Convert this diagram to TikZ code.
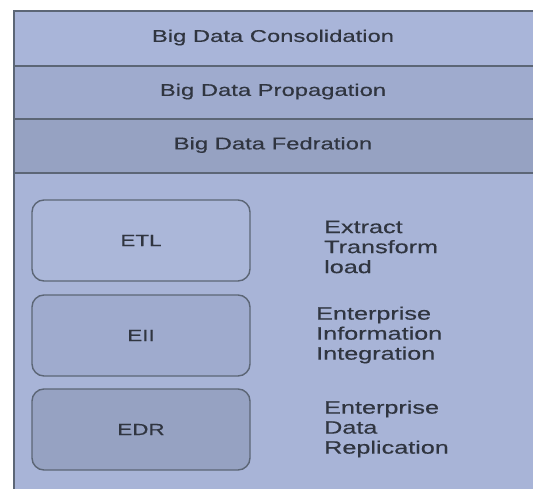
\documentclass[tikz,border=0pt]{standalone}
\usepackage{fontspec}
\newfontfamily\wideSans[FakeStretch=1.4,FakeBold=0.4]{Liberation Sans}
\usetikzlibrary{positioning}
\definecolor{layerA}{RGB}{169,181,217}
\definecolor{layerB}{RGB}{159,171,206}
\definecolor{layerC}{RGB}{150,162,194}
\definecolor{panelBlue}{RGB}{168,180,215}
\definecolor{frameGray}{RGB}{92,102,118}
\definecolor{txtGray}{RGB}{48,53,64}

\tikzset{
  layer/.style={draw=frameGray, line width=1.6pt, minimum width=540pt, anchor=north west,
    inner sep=0pt},
  layertext/.style={text=txtGray, inner sep=0pt, font=\wideSans\fontsize{17}{20}\selectfont},
  techbox/.style={draw=frameGray, line width=1.4pt, rounded corners=12pt,
    minimum width=218pt, minimum height=81pt, text=txtGray,
    font=\wideSans\fontsize{16}{19}\selectfont},
  techdesc/.style={anchor=west, align=left, inner sep=0pt, text=txtGray,
    font=\wideSans\fontsize{18}{20}\selectfont}
}

\begin{document}
\begin{tikzpicture}[x=1pt, y=-1pt]
\useasboundingbox (0,0) rectangle (533,489);
\clip (0,0) rectangle (533,489);

% lower panel
\node[layer, fill=panelBlue, minimum height=330pt] (panel) at (13,172) {};

% the three layers
\node[layer, fill=layerA, minimum height=55pt] (consol) at (13,10) {};
\node[layer, fill=layerB, minimum height=53pt] (propag) at (13,65) {};
\node[layer, fill=layerC, minimum height=54pt] (fedra) at (13,118) {};
\node[layertext] (consoltext) at (273,37.5) {Big Data Consolidation};
\node[layertext] (propagtext) at (273,91.5) {Big Data Propagation};
\node[layertext] (fedratext) at (273,145) {Big Data Fedration};

% techniques
\node[techbox, fill=panelBlue!96!white] (etl) at (141,240.5) {ETL};
\node[techbox, fill=layerB] (eii) at (141,335.5) {EII};
\node[techbox, fill=layerC] (edr) at (141,429.5) {EDR};

\node[techdesc] (etldesc) at (324,247) {Extract\\Transform\\load};
\node[techdesc] (eiidesc) at (316,335) {Enterprise\\Information\\Integration};
\node[techdesc] (edrdesc) at (324,429) {Enterprise\\Data\\Replication};
\end{tikzpicture}
\end{document}
